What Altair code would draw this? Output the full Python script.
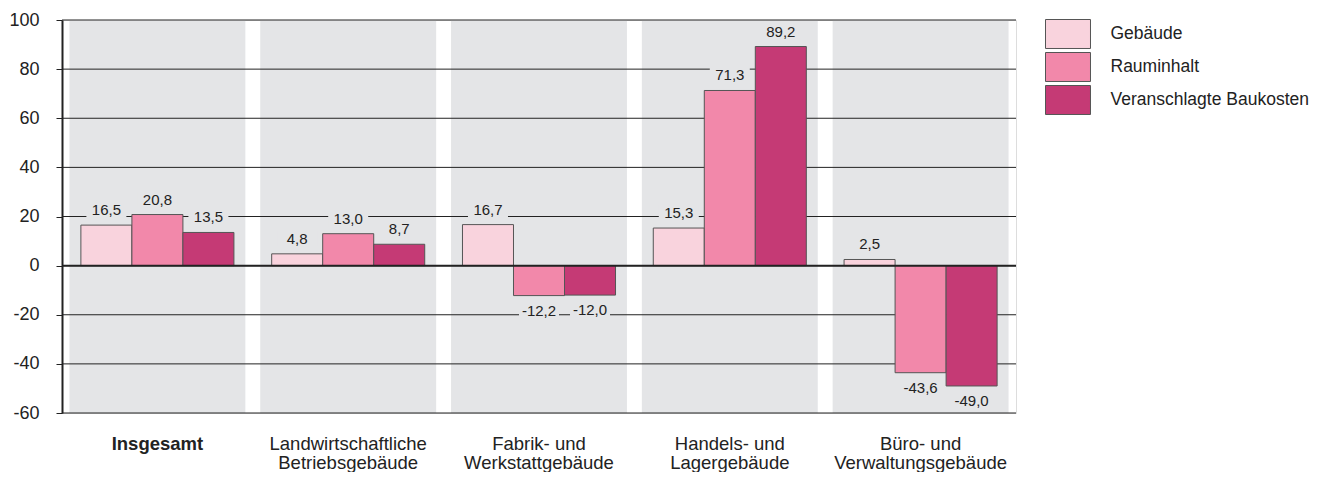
import altair as alt
import pandas as pd

categories = [
    "Insgesamt",
    "Landwirtschaftliche\nBetriebsgebäude",
    "Fabrik- und\nWerkstattgebäude",
    "Handels- und\nLagergebäude",
    "Büro- und\nVerwaltungsgebäude",
]
series = ["Gebäude", "Rauminhalt", "Veranschlagte Baukosten"]
gebaeude = [16.5, 4.8, 16.7, 15.3, 2.5]
rauminhalt = [20.8, 13.0, -12.2, 71.3, -43.6]
baukosten = [13.5, 8.7, -12.0, 89.2, -49.0]
colors = ["#f9d3dd", "#f288aa", "#c53a75"]
y_ticks = [-60, -40, -20, 0, 20, 40, 60, 80, 100]

rows = []
for s, vals in zip(series, [gebaeude, rauminhalt, baukosten]):
    for c, v in zip(categories, vals):
        rows.append({"cat": c, "series": s, "value": v,
                     "label": f"{v:.1f}".replace(".", ","),
                     "sign": "neg" if v < 0 else "pos"})
df = pd.DataFrame(rows)
panels = pd.DataFrame({"cat": categories, "value": [-60] * 5, "hi": [100] * 5})
grid = pd.DataFrame({"value": y_ticks})

FONT = "Liberation Sans"
GRAY = "#e4e5e7"

xaxis = alt.Axis(title=None, domain=False, ticks=False, tickSize=0,
                 labelAngle=0, labelFontSize=18.5, labelColor="#222",
                 labelPadding=21, labelLineHeight=19,
                 labelExpr="split(datum.label, '\\n')",
                 labelFontWeight=alt.condition("datum.value == 'Insgesamt'",
                                               alt.value("bold"), alt.value("normal")))
xenc = alt.X("cat:N", sort=categories,
             scale=alt.Scale(paddingInner=0, paddingOuter=0), axis=xaxis)
yscale = alt.Scale(domain=[-60, 100], nice=False, zero=False)
yaxis = alt.Axis(title=None, values=y_ticks, grid=False, domain=True,
                 domainColor="#222", domainWidth=2, ticks=True, tickSize=6,
                 tickColor="#222", labelFontSize=18, labelColor="#222",
                 labelPadding=17, labelExpr="'' + datum.value")
yenc = alt.Y("value:Q", scale=yscale, axis=yaxis)
xoff = alt.XOffset("series:N", sort=series,
                   scale=alt.Scale(paddingInner=0, paddingOuter=0.37))

panel_layer = alt.Chart(panels).mark_bar(color=GRAY, width={"band": 0.922}).encode(
    x=xenc, y=yenc, y2="hi:Q")

grid_layer = alt.Chart(grid).mark_rule(color="#222", strokeWidth=1).encode(y=yenc)

box_pos = "M-1,-1.15L1,-1.15L1,-0.35L-1,-0.35Z"
box_neg = "M-1,0.35L1,0.35L1,1.15L-1,1.15Z"
box_layer = alt.Chart(df).mark_point(filled=True, opacity=1, color=GRAY, size=1600,
                                     strokeWidth=0).encode(
    x=xenc, xOffset=xoff, y=yenc,
    shape=alt.Shape("sign:N", scale=alt.Scale(domain=["pos", "neg"], range=[box_pos, box_neg]),
                    legend=None))

bars = alt.Chart(df).mark_bar(stroke="#555", strokeWidth=1).encode(
    x=xenc, xOffset=xoff, y=yenc,
    color=alt.Color("series:N", sort=series,
                    scale=alt.Scale(domain=series, range=colors),
                    legend=alt.Legend(title=None, orient="none", legendX=992.5, legendY=0.5,
                                      symbolType="M-1.73,-1.115L1.73,-1.115L1.73,1.115L-1.73,1.115Z",
                                      symbolSize=676, symbolStrokeColor="#555",
                                      symbolStrokeWidth=1, symbolOpacity=1,
                                      labelFontSize=17.5, labelColor="#222",
                                      labelLimit=400,
                                      labelOffset=29, rowPadding=0, padding=0)))

zero_layer = alt.Chart(pd.DataFrame({"value": [0]})).mark_rule(color="#222", strokeWidth=2).encode(
    y=yenc)

text_pos = alt.Chart(df).transform_filter("datum.value >= 0").mark_text(
    fontSize=15, color="#222", baseline="middle", dy=-15).encode(
    x=xenc, xOffset=xoff, y=yenc, text="label:N")
text_neg = alt.Chart(df).transform_filter("datum.value < 0").mark_text(
    fontSize=15, color="#222", baseline="middle", dy=15).encode(
    x=xenc, xOffset=xoff, y=yenc, text="label:N")

chart = alt.layer(panel_layer, grid_layer, box_layer, bars, zero_layer, text_pos, text_neg).properties(
    width=954, height=393,
    padding={"left": 0, "top": 3, "right": 0, "bottom": 0},
).configure_view(stroke=None).configure(font=FONT)

chart.save("out.html", embed_options={"renderer": "svg", "actions": False})
